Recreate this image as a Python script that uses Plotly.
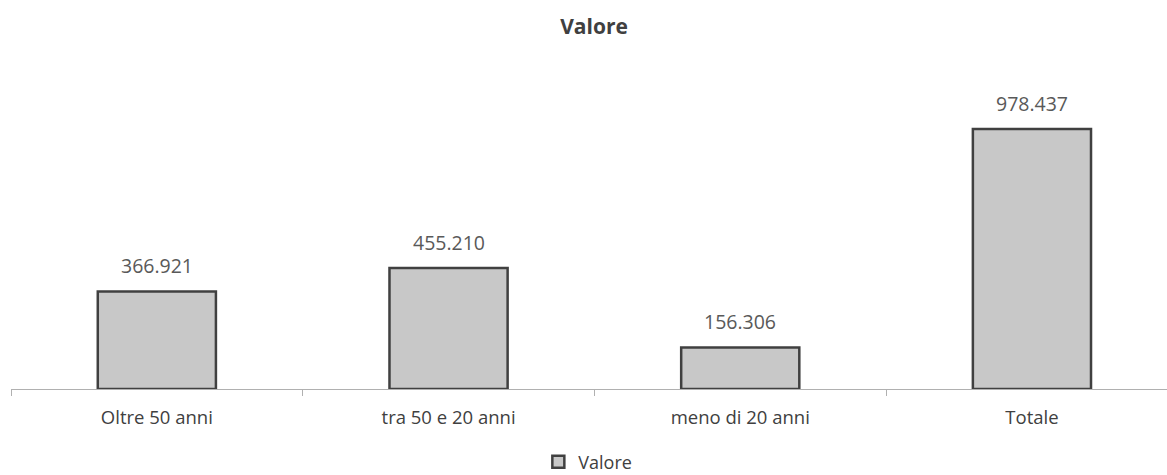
import plotly.graph_objects as go

categories = ["Oltre 50 anni", "tra 50 e 20 anni", "meno di 20 anni", "Totale"]
values = [366921, 455210, 156306, 978437]
series_name = "Valore"
title_text = "Valore"

def fmt(v):
    return f"{v:,}".replace(",", ".")

xs = list(range(len(categories)))
boundaries = [i - 0.5 for i in xs]

fig = go.Figure()
fig.add_trace(go.Bar(
    x=xs, y=values, name=series_name, width=0.405,
    marker=dict(color="#c8c8c8", line=dict(color="#404040", width=2.5)),
    hoverinfo="skip",
))
# invisible trace for boundary tick marks on a secondary axis
fig.add_trace(go.Scatter(x=boundaries, y=[0]*len(boundaries), xaxis="x2", mode="markers",
                         marker=dict(opacity=0), showlegend=False, hoverinfo="skip"))

for x, v in zip(xs, values):
    fig.add_annotation(x=x, y=v, text=fmt(v), showarrow=False, yanchor="bottom", yshift=10,
                       font=dict(family="Open Sans", size=19.5, color="#595959"))

fig.update_layout(
    width=1167, height=475,
    margin=dict(l=11, r=0, t=70, b=86, autoexpand=False),
    paper_bgcolor="white", plot_bgcolor="white",
    title=dict(text="<b>" + title_text + "</b>", x=0.509, xanchor="center", y=1 - 27/475, yanchor="middle",
               yref="container", font=dict(family="Open Sans", size=21, color="#404040")),
    xaxis=dict(range=[-0.5, 3.463], tickmode="array", tickvals=xs, ticktext=categories,
               showline=True, linecolor="#b0b0b0", linewidth=1, ticks="", showgrid=False,
               zeroline=False, ticklabelstandoff=12, automargin=False,
               tickfont=dict(family="Open Sans", size=18.5, color="#404040")),
    xaxis2=dict(range=[-0.5, 3.463], overlaying="x", anchor="y", side="bottom",
                tickmode="array", tickvals=boundaries, ticks="outside", ticklen=6,
                tickcolor="#b0b0b0", tickwidth=1, showticklabels=False, showgrid=False,
                zeroline=False, showline=False, automargin=False),
    yaxis=dict(range=[0, 1200000], visible=False, showgrid=False, zeroline=False, automargin=False),
    showlegend=True,
    legend=dict(orientation="h", x=0.499, xanchor="center", y=-(462-389)/319, yanchor="middle",
                font=dict(family="Open Sans", size=18, color="#404040"), itemwidth=30),
    bargap=0.6,
)

fig.write_html("out.html", post_script="document.body.style.margin='0';",
               config={"displayModeBar": False})
